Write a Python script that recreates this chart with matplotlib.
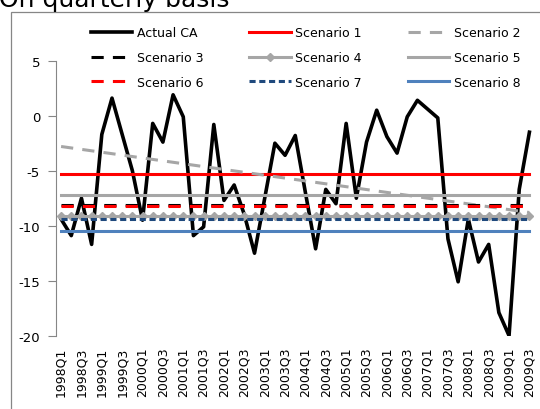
import numpy as np
import matplotlib.pyplot as plt
from matplotlib.patches import Rectangle

plt.rcParams['font.family'] = 'DejaVu Sans'
plt.rcParams['axes.unicode_minus'] = False

# quarterly current account, 1998Q1 .. 2009Q3
quarters = [f'{y}Q{q}' for y in range(1998, 2010) for q in range(1, 5)][:47]
actual_ca = [-9.4, -10.9, -7.5, -11.7, -1.7, 1.6, -1.7, -5.0,
             -9.5, -0.7, -2.4, 1.9, -0.1, -10.9, -10.1, -0.8,
             -7.7, -6.3, -9.0, -12.5, -7.5, -2.5, -3.6, -1.8,
             -7.0, -12.1, -6.7, -8.0, -0.7, -7.5, -2.4, 0.5,
             -1.9, -3.4, -0.1, 1.4, 0.6, -0.2, -11.2, -15.1,
             -9.4, -13.3, -11.7, -17.9, -20.0, -6.7, -1.5]

# scenario levels (scenario 2 runs from its first to its last value)
scenario1 = -5.3
scenario2 = [-2.8, -8.8]
scenario3 = -8.1
scenario4 = -9.1
scenario5 = -7.25
scenario6 = -8.22
scenario7 = -9.4
scenario8 = -10.45

yticks = [5, 0, -5, -10, -15, -20]

gray = '#a6a6a6'
axis_gray = '#868686'

fig = plt.figure(figsize=(5.4, 4.1), dpi=100)
W, H = 540, 410

# chart frame and title
fig.patches.append(Rectangle((11 / W, -0.2), 1.2, 1.2 - 13 / H, transform=fig.transFigure,
                             fill=False, edgecolor=axis_gray, lw=0.9))
fig.text(-1 / W, 1 - 7.5 / H, 'On quarterly basis', fontsize=18, ha='left', va='baseline')

ax = fig.add_axes([56 / W, 1 - 336.7 / H, (534.5 - 56) / W, (336.7 - 61.7) / H])

x = np.arange(len(quarters))
ends = [x[0], x[-1]]
lw = 2.2

ax.plot(x, actual_ca, color='black', lw=2.6, label='Actual CA', zorder=2)
ax.plot(ends, [scenario1] * 2, color='red', lw=lw, label='Scenario 1', zorder=3)
ax.plot(ends, scenario2, color=gray, lw=lw, ls=(0, (4, 3)), label='Scenario 2', zorder=3)
ax.plot(ends, [scenario3] * 2, color='black', lw=lw, ls=(0, (4, 3)), label='Scenario 3', zorder=3)
ax.plot(x, [scenario4] * len(x), color=gray, lw=lw, marker='D', ms=4.2,
        label='Scenario 4', zorder=3)
ax.plot(ends, [scenario5] * 2, color=gray, lw=lw, label='Scenario 5', zorder=3)
ax.plot(ends, [scenario6] * 2, color='red', lw=lw, ls=(0, (4, 3)), label='Scenario 6', zorder=3)
ax.plot(ends, [scenario7] * 2, color='#1f497d', lw=lw, ls=(0, (2, 1.2)), label='Scenario 7', zorder=3)
ax.plot(ends, [scenario8] * 2, color='#4f81bd', lw=lw, label='Scenario 8', zorder=3)

ax.set_xlim(-0.5, len(x) - 0.5)
ax.set_ylim(-20, 5)
ax.set_yticks(yticks)
ax.set_xticks(x[::2])
ax.set_xticklabels(quarters[::2], rotation=90, va='top', ha='center')

for side in ['top', 'right', 'bottom']:
    ax.spines[side].set_visible(False)
ax.spines['left'].set_color(axis_gray)
ax.tick_params(axis='y', direction='out', length=5.5, color=axis_gray, pad=6, labelsize=9.5)
ax.tick_params(axis='x', length=0, pad=8, labelsize=9)
ax.patch.set_visible(False)

# legend laid out row by row, three columns
handles, labels = ax.get_legend_handles_labels()
order = [0, 3, 6, 1, 4, 7, 2, 5, 8]
fig.legend([handles[i] for i in order], [labels[i] for i in order], ncol=3,
           loc='upper left', bbox_to_anchor=(91 / W, 1 - 27 / H), frameon=False,
           fontsize=9, handlelength=3.3, handletextpad=0.35, columnspacing=3.7,
           labelspacing=0.95, borderpad=0, borderaxespad=0)

fig.savefig('out.png', dpi=100)
